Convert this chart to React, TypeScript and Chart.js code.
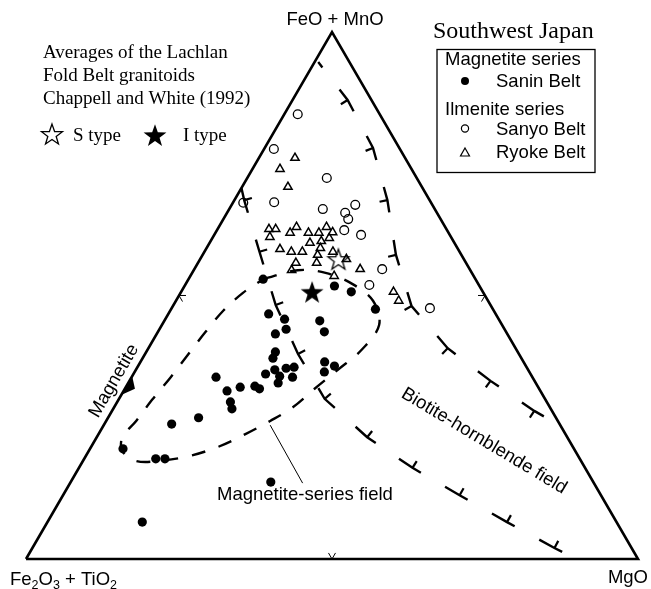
import React, { useEffect, useRef } from "react";
import { Chart, registerables } from "chart.js";
Chart.register(...registerables);

// Ternary compositions: [FeO+MnO %, MgO %]; remainder is Fe2O3+TiO2
type Comp = [number, number];

const sanInBelt: Comp[] = [
  [53.1, 12.2], [51.8, 24.5], [50.7, 27.8], [47.4, 33.4], [46.5, 16.4], [45.5, 19.5],
  [43.6, 20.7], [42.7, 19.4], [45.2, 25.4], [43.1, 27.2], [39.3, 21.1], [38.1, 21.3],
  [37.4, 30.1], [36.6, 32.1], [35.5, 31.0], [35.1, 21.6], [35.9, 22.7], [34.7, 24.1],
  [36.2, 24.4], [36.4, 25.6], [34.5, 26.3], [33.4, 24.5], [34.5, 13.8], [31.9, 16.9],
  [32.6, 18.7], [32.8, 21.0], [32.3, 22.0], [29.8, 18.5], [28.5, 19.4], [26.8, 14.8],
  [25.6, 11.0], [20.9, 5.4], [19.0, 11.7], [19.0, 13.2], [14.6, 32.7], [7.0, 15.5],
];

const sanyoBelt: Comp[] = [
  [84.4, 2.2], [77.8, 1.6], [72.3, 13.0], [67.6, 1.7], [67.7, 6.7], [66.4, 15.3],
  [67.2, 20.2], [65.7, 19.3], [64.5, 20.4], [62.4, 20.8], [61.5, 24.0], [55.0, 30.7],
  [52.0, 30.1], [47.6, 42.2],
];

const ryokeBelt: Comp[] = [
  [76.1, 5.9], [74.0, 4.5], [70.6, 7.5], [62.6, 8.4], [62.6, 9.5], [61.1, 9.3],
  [61.9, 12.2], [63.0, 12.7], [61.9, 15.2], [61.9, 16.9], [63.0, 17.6], [62.0, 19.1],
  [60.3, 18.1], [60.9, 19.1], [60.0, 16.4], [58.8, 12.1], [58.3, 14.2], [58.3, 16.0],
  [59.0, 18.6], [57.7, 18.8], [58.3, 21.0], [56.2, 16.0], [54.8, 16.0], [56.2, 19.4],
  [56.9, 23.9], [55.0, 27.1], [53.7, 23.5], [50.7, 34.7], [49.0, 36.4],
];

const sTypeAverage: Comp[] = [[56.9, 22.6]];
const iTypeAverage: Comp[] = [[50.7, 21.4]];

const magnetiteSeriesField: Comp[] = [
  [53.1, 12.2], [54.8, 17.0], [54.3, 21.8], [52.2, 27.2], [49.0, 32.2], [44.4, 35.5],
  [39.7, 35.0], [35.9, 33.0], [32.3, 31.0], [28.8, 29.2], [26.2, 26.8], [23.7, 24.0],
  [21.3, 20.8], [19.5, 16.8], [18.6, 12.4], [18.6, 8.7], [20.3, 5.7], [23.0, 4.2],
  [26.2, 4.9], [30.2, 5.5], [34.5, 6.4], [38.9, 7.1], [43.1, 7.8], [47.2, 8.7],
  [50.5, 10.2], [53.1, 12.2],
];

// biotite-hornblende field boundaries (barbed dashed lines)
const upperBoundary: Comp[] = [
  [94.3, 0.6], [87.1, 9.0], [78.0, 17.7], [68.1, 25.0], [57.7, 31.6], [48.0, 39.0],
  [40.0, 48.9], [33.8, 59.0], [28.1, 69.0], [26.6, 72.0],
];
const lowerBoundary: Comp[] = [
  [70.4, 0.0], [68.1, 1.6], [58.3, 9.0], [48.2, 16.7], [38.9, 25.0], [30.4, 33.6],
  [23.1, 44.2], [17.3, 54.5], [12.1, 64.8], [7.0, 75.1], [2.1, 85.3], [0.9, 87.9],
];

const magnetiteMarker: Comp[] = [[31.1, 0], [34.7, 0], [32.3, 1.65]];
const fieldLeader: Comp[] = [[25.4, 27.2], [14.4, 38.0]];
const frame: Comp[] = [[0, 0], [0, 100], [100, 0], [0, 0]];
const edgeMidpoints: Comp[] = [[50, 0], [50, 50], [0, 50]];

const toXY = (c: Comp) => ({ x: c[1] + c[0] / 2, y: c[0] });

const SANS = '"Liberation Sans", Arial, Helvetica, sans-serif';
const SERIF = '"Liberation Serif", "Times New Roman", serif';

function makeStar(r: number, filled: boolean): HTMLCanvasElement {
  const c = document.createElement("canvas");
  const size = Math.ceil(r * 2 + 4);
  c.width = size;
  c.height = size;
  const g = c.getContext("2d")!;
  g.translate(size / 2, size / 2 + r * 0.1);
  g.beginPath();
  for (let i = 0; i < 10; i++) {
    const rad = i % 2 === 0 ? r : r * 0.4;
    const a = -Math.PI / 2 + (i * Math.PI) / 5;
    g.lineTo(rad * Math.cos(a), rad * Math.sin(a));
  }
  g.closePath();
  if (filled) {
    g.fillStyle = "#000";
    g.fill();
  } else {
    g.lineWidth = 1.3;
    g.strokeStyle = "#000";
    g.lineJoin = "miter";
    g.stroke();
  }
  return c;
}

export default function App() {
  const ref = useRef<HTMLCanvasElement | null>(null);

  useEffect(() => {
    if (!ref.current) return;
    const openStar = makeStar(11, false);
    const filledStar = makeStar(12, true);

    const barbs = [
      { data: upperBoundary, side: 1 },
      { data: lowerBoundary, side: -1 },
    ];

    const overlay = {
      id: "overlay",
      afterDatasetsDraw(chart: any) {
        const ctx: CanvasRenderingContext2D = chart.ctx;
        const xs = chart.scales.x;
        const ys = chart.scales.y;
        const px = (c: Comp): [number, number] => [
          xs.getPixelForValue(c[1] + c[0] / 2),
          ys.getPixelForValue(c[0]),
        ];
        ctx.save();
        ctx.strokeStyle = "#000";
        ctx.fillStyle = "#000";
        // barbs on the boundaries
        ctx.lineWidth = 2.2;
        for (const b of barbs) {
          const pts = b.data.map(px);
          for (let i = 1; i < pts.length - 1; i++) {
            let dx = pts[i + 1][0] - pts[i - 1][0];
            let dy = pts[i + 1][1] - pts[i - 1][1];
            const L = Math.hypot(dx, dy);
            dx /= L;
            dy /= L;
            const nx = -dy * b.side;
            const ny = dx * b.side;
            ctx.beginPath();
            ctx.moveTo(pts[i][0], pts[i][1]);
            ctx.lineTo(pts[i][0] + nx * 8, pts[i][1] + ny * 8);
            ctx.stroke();
          }
        }
        // magnetite composition wedge
        const w = magnetiteMarker.map(px);
        ctx.beginPath();
        ctx.moveTo(w[0][0], w[0][1]);
        ctx.lineTo(w[1][0], w[1][1]);
        ctx.lineTo(w[2][0], w[2][1]);
        ctx.closePath();
        ctx.fill();
        // small chevrons at the edge midpoints, opening toward the centroid
        const cen = px([33.33, 33.33]);
        ctx.lineWidth = 1;
        for (const m of edgeMidpoints) {
          const p = px(m);
          let dx = cen[0] - p[0];
          let dy = cen[1] - p[1];
          const L = Math.hypot(dx, dy);
          dx /= L;
          dy /= L;
          for (const s of [-1, 1]) {
            const a = (s * Math.PI) / 6;
            const ex = dx * Math.cos(a) - dy * Math.sin(a);
            const ey = dx * Math.sin(a) + dy * Math.cos(a);
            ctx.beginPath();
            ctx.moveTo(p[0], p[1]);
            ctx.lineTo(p[0] + ex * 7, p[1] + ey * 7);
            ctx.stroke();
          }
        }
        ctx.restore();
      },
      afterDraw(chart: any) {
        const ctx: CanvasRenderingContext2D = chart.ctx;
        ctx.save();
        ctx.fillStyle = "#000";
        ctx.strokeStyle = "#000";
        ctx.textBaseline = "alphabetic";
        // apex labels
        ctx.font = `18.5px ${SANS}`;
        ctx.textAlign = "center";
        ctx.fillText("FeO + MnO", 335, 25);
        ctx.textAlign = "right";
        ctx.fillText("MgO", 648, 583);
        ctx.textAlign = "left";
        let x = 10;
        const base = 585;
        const part = (t: string, sub: boolean) => {
          ctx.font = sub ? `12.5px ${SANS}` : `18.5px ${SANS}`;
          ctx.fillText(t, x, sub ? base + 4 : base);
          x += ctx.measureText(t).width;
        };
        part("Fe", false);
        part("2", true);
        part("O", false);
        part("3", true);
        part(" + TiO", false);
        part("2", true);

        // top-left note
        ctx.font = `19px ${SERIF}`;
        ctx.fillText("Averages of the Lachlan", 43, 58);
        ctx.fillText("Fold Belt granitoids", 43, 81);
        ctx.fillText("Chappell and White (1992)", 43, 104);
        ctx.fillText("S type", 73, 141);
        ctx.fillText("I type", 183, 141);
        ctx.drawImage(openStar, 52 - openStar.width / 2, 134 - openStar.height / 2);
        ctx.drawImage(filledStar, 155 - filledStar.width / 2, 135 - filledStar.height / 2);

        // legend
        ctx.font = `24px ${SERIF}`;
        ctx.fillText("Southwest Japan", 433, 38);
        ctx.lineWidth = 1.3;
        ctx.strokeRect(437, 49.5, 158, 123);
        ctx.font = `18.5px ${SANS}`;
        ctx.fillText("Magnetite series", 445, 65);
        ctx.fillText("Sanin Belt", 496, 87);
        ctx.fillText("Ilmenite series", 445, 115);
        ctx.fillText("Sanyo Belt", 496, 135);
        ctx.fillText("Ryoke Belt", 496, 158);
        ctx.beginPath();
        ctx.arc(465, 81, 4, 0, Math.PI * 2);
        ctx.fill();
        ctx.lineWidth = 1.2;
        ctx.beginPath();
        ctx.arc(465, 128.5, 3.6, 0, Math.PI * 2);
        ctx.stroke();
        ctx.beginPath();
        ctx.moveTo(465, 148);
        ctx.lineTo(469.5, 156);
        ctx.lineTo(460.5, 156);
        ctx.closePath();
        ctx.stroke();

        // field labels
        ctx.font = `18.5px ${SANS}`;
        ctx.fillText("Magnetite-series field", 217, 500);
        ctx.textAlign = "center";
        ctx.textBaseline = "middle";
        ctx.save();
        ctx.translate(114, 381);
        ctx.rotate((-59.8 * Math.PI) / 180);
        ctx.fillText("Magnetite", 0, 0);
        ctx.restore();
        ctx.save();
        ctx.translate(484, 441);
        ctx.rotate((31 * Math.PI) / 180);
        ctx.fillText("Biotite-hornblende field", 0, 0);
        ctx.restore();
        ctx.restore();
      },
    };

    const lineBase = {
      type: "line" as const,
      borderColor: "#000",
      pointRadius: 0,
      fill: false,
      clip: false as any,
      tension: 0,
    };

    const chart = new Chart(ref.current, {
      type: "scatter",
      data: {
        datasets: [
          { ...lineBase, label: "frame", data: frame.map(toXY), borderWidth: 2.6, borderJoinStyle: "miter" },
          { ...lineBase, label: "upper boundary", data: upperBoundary.map(toXY), borderWidth: 2.4, borderDash: [26, 28], borderDashOffset: 19.2 },
          { ...lineBase, label: "lower boundary", data: lowerBoundary.map(toXY), borderWidth: 2.4, borderDash: [26, 28], borderDashOffset: 0.4 },
          { ...lineBase, label: "Magnetite-series field", data: magnetiteSeriesField.map(toXY), borderWidth: 2.4, borderDash: [14, 14], tension: 0.35 },
          { ...lineBase, label: "leader", data: fieldLeader.map(toXY), borderWidth: 1 },
          {
            label: "Sanin Belt", data: sanInBelt.map(toXY), pointStyle: "circle", pointRadius: 4.6,
            backgroundColor: "#000", borderColor: "#000", borderWidth: 0, clip: false as any,
          },
          {
            label: "Sanyo Belt", data: sanyoBelt.map(toXY), pointStyle: "circle", pointRadius: 4.4,
            backgroundColor: "rgba(0,0,0,0)", borderColor: "#000", borderWidth: 1.3, clip: false as any,
          },
          {
            label: "Ryoke Belt", data: ryokeBelt.map(toXY), pointStyle: "triangle", pointRadius: 4.8,
            backgroundColor: "rgba(0,0,0,0)", borderColor: "#000", borderWidth: 1.5, clip: false as any,
          },
          { label: "S type", data: sTypeAverage.map(toXY), pointStyle: openStar as any, pointRadius: 11, clip: false as any },
          { label: "I type", data: iTypeAverage.map(toXY), pointStyle: filledStar as any, pointRadius: 12, clip: false as any },
        ] as any,
      },
      options: {
        animation: false,
        responsive: false,
        layout: { padding: { left: 26, right: 8, top: 32, bottom: 30 } },
        plugins: { legend: { display: false }, tooltip: { enabled: false }, title: { display: false } },
        scales: {
          x: { type: "linear", min: 0, max: 100, display: false },
          y: { type: "linear", min: 0, max: 100, display: false },
        },
      },
      plugins: [overlay],
    });
    return () => chart.destroy();
  }, []);

  return (
    <div style={{ position: "absolute", left: 0, top: 0, width: 651, height: 589, background: "#fff" }}>
      <canvas ref={ref} width={651} height={589} style={{ display: "block" }} />
    </div>
  );
}
